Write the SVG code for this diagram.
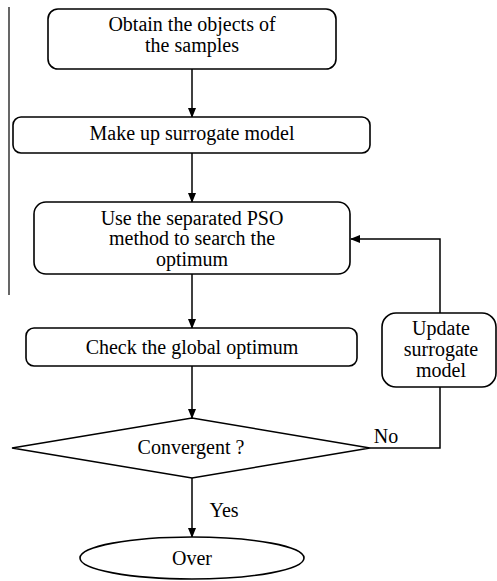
<svg xmlns="http://www.w3.org/2000/svg" width="497" height="581" viewBox="0 0 497 581">
<style>
.box{fill:#fff;stroke:#000;stroke-width:1.6}
.ln{fill:none;stroke:#000;stroke-width:1.5}
text{font-family:"Liberation Serif","Times New Roman",serif;font-size:20px;fill:#000;text-anchor:middle}
</style>
<defs>
<marker id="ah" markerWidth="10" markerHeight="8" refX="9" refY="4" orient="auto" markerUnits="userSpaceOnUse">
<path d="M0,0 L10,4 L0,8 Z" fill="#000"/>
</marker>
</defs>
<rect width="497" height="581" fill="#fff"/>
<line x1="9" y1="7" x2="9" y2="295" stroke="#000" stroke-width="1.2"/>
<g id="connectors">
<line class="ln" x1="192" y1="69" x2="192" y2="117" marker-end="url(#ah)"/>
<line class="ln" x1="192" y1="153" x2="192" y2="202" marker-end="url(#ah)"/>
<line class="ln" x1="192" y1="274" x2="192" y2="328" marker-end="url(#ah)"/>
<line class="ln" x1="192" y1="366" x2="192" y2="418" marker-end="url(#ah)"/>
<line class="ln" x1="192" y1="478" x2="192" y2="537" marker-end="url(#ah)"/>
<polyline class="ln" points="370,448 440,448 440,387"/>
<polyline class="ln" points="440,313 440,239 351,239" marker-end="url(#ah)"/>
<text x="224" y="517">Yes</text>
<text x="386" y="443">No</text>
</g>
<g id="n1">
<rect class="box" x="48" y="9" width="288" height="60" rx="10"/>
<text x="192" y="31">Obtain the objects of</text>
<text x="192" y="52">the samples</text>
</g>
<g id="n2">
<rect class="box" x="13" y="117" width="357" height="36" rx="8"/>
<text x="192" y="140">Make up surrogate model</text>
</g>
<g id="n3">
<rect class="box" x="34" y="202" width="316" height="72" rx="12"/>
<text x="192" y="225">Use the separated PSO</text>
<text x="192" y="245">method to search the</text>
<text x="192" y="266">optimum</text>
</g>
<g id="n4">
<rect class="box" x="26" y="328" width="331" height="38" rx="8"/>
<text x="192" y="354">Check the global optimum</text>
</g>
<g id="n5">
<polygon class="box" points="12,448 192,418 370,448 192,478"/>
<text x="191" y="454">Convergent ?</text>
</g>
<g id="n6">
<ellipse class="box" cx="192" cy="558" rx="112" ry="21"/>
<text x="192" y="565">Over</text>
</g>
<g id="n7">
<rect class="box" x="382" y="313" width="114" height="74" rx="14"/>
<text x="441" y="335">Update</text>
<text x="441" y="356">surrogate</text>
<text x="441" y="377">model</text>
</g>
</svg>
